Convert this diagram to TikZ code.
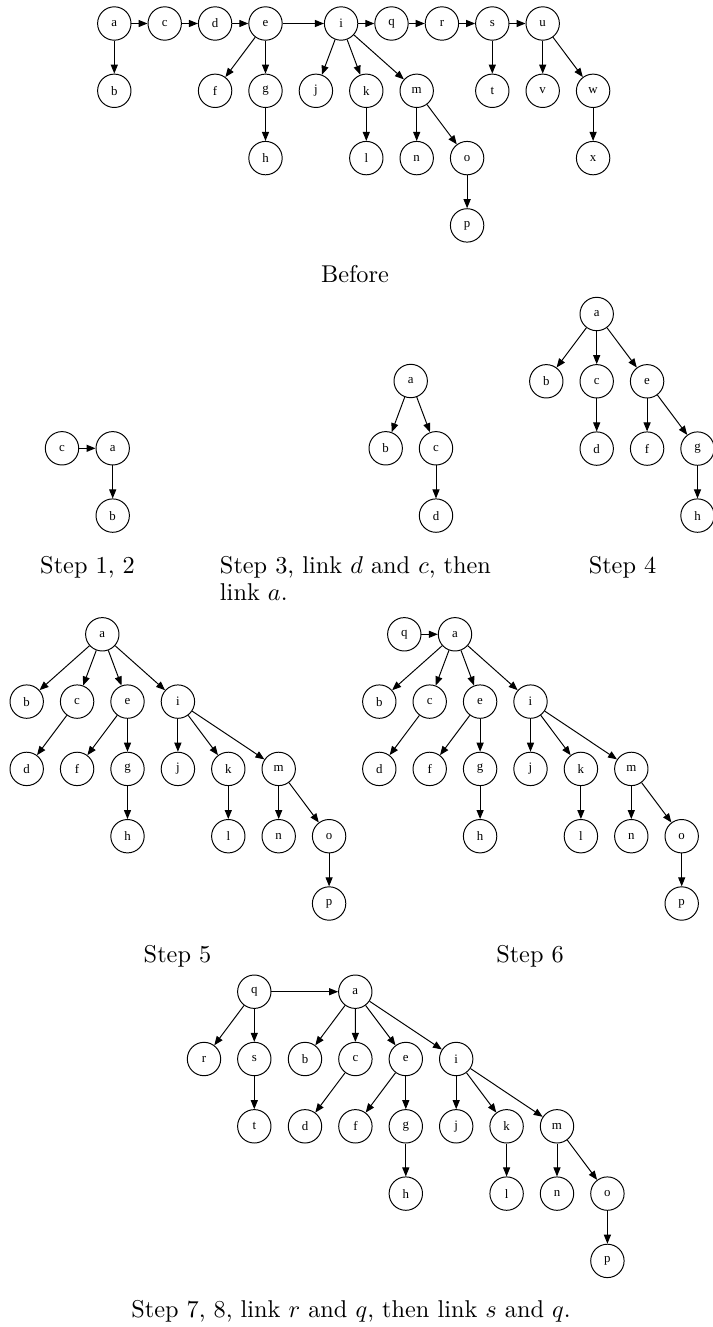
\documentclass[tikz,border=0pt]{standalone}
\usepackage{fontspec}
\newfontfamily\nodefont{Liberation Serif}
\usetikzlibrary{arrows.meta}
\tikzset{
  vtx/.style={circle, draw, line width=0.4pt, minimum size=33.4*0.4115pt, inner sep=0pt,
              font=\nodefont\fontsize{5.3}{6}\selectfont},
  edge/.style={line width=0.4pt, -{Triangle[length=3.7pt,width=2.9pt]}},
  caption/.style={font=\fontsize{10}{11.1}\selectfont, anchor=base, inner sep=0pt}
}
% subtree rooted at a: #1 prefix, #2 x of b, #3 y of top row, #4 x of a
\newcommand\mytree[4]{%
  \node[vtx] (#1a) at (#4,#3) {a};
  \node[vtx] (#1b) at ({#2},{#3+67.3}) {b};
  \node[vtx] (#1c) at ({#2+50.4},{#3+67.3}) {c};
  \node[vtx] (#1e) at ({#2+100.8},{#3+67.3}) {e};
  \node[vtx] (#1i) at ({#2+151.2},{#3+67.3}) {i};
  \node[vtx] (#1d) at ({#2},{#3+134.6}) {d};
  \node[vtx] (#1f) at ({#2+50.4},{#3+134.6}) {f};
  \node[vtx] (#1g) at ({#2+100.8},{#3+134.6}) {g};
  \node[vtx] (#1j) at ({#2+151.2},{#3+134.6}) {j};
  \node[vtx] (#1k) at ({#2+201.6},{#3+134.6}) {k};
  \node[vtx] (#1m) at ({#2+252},{#3+134.6}) {m};
  \node[vtx] (#1h) at ({#2+100.8},{#3+201.9}) {h};
  \node[vtx] (#1l) at ({#2+201.6},{#3+201.9}) {l};
  \node[vtx] (#1n) at ({#2+252},{#3+201.9}) {n};
  \node[vtx] (#1o) at ({#2+302.4},{#3+201.9}) {o};
  \node[vtx] (#1p) at ({#2+302.4},{#3+269.2}) {p};
  \foreach \u/\v in {a/b,a/c,a/e,a/i,c/d,e/f,e/g,g/h,i/j,i/k,i/m,k/l,m/n,m/o,o/p}
    \draw[edge] (#1\u) -- (#1\v);
}
\begin{document}
\begin{tikzpicture}[x=0.4115pt, y=-0.4115pt]
\useasboundingbox (0,0) rectangle (713,1327);

% ---------- Before ----------
\foreach \n/\cx/\ry in {a/0/0,c/1/0,d/2/0,e/3/0,i/4.5/0,q/5.5/0,r/6.5/0,s/7.5/0,u/8.5/0,
                        b/0/1,f/2/1,g/3/1,j/4/1,k/5/1,m/6/1,t/7.5/1,v/8.5/1,w/9.5/1,
                        h/3/2,l/5/2,n/6/2,o/7/2,x/9.5/2,p/7/3}
  \node[vtx] (B\n) at ({114.3+50.4*\cx},{23.5+67.3*\ry}) {\n};
\foreach \u/\v in {a/c,c/d,d/e,e/i,i/q,q/r,r/s,s/u,a/b,e/f,e/g,g/h,i/j,i/k,i/m,k/l,m/n,m/o,o/p,s/t,u/v,u/w,w/x}
  \draw[edge] (B\u) -- (B\v);
\node[caption] (capB) at (355,282) {Before};

% ---------- Step 1, 2 ----------
\node[vtx] (Sc) at (62,448.3) {c};
\node[vtx] (Sa) at (112.7,448.3) {a};
\node[vtx] (Sb) at (112.7,515.6) {b};
\draw[edge] (Sc) -- (Sa);
\draw[edge] (Sa) -- (Sb);
\node[caption] (cap12) at (87.5,573) {Step 1, 2};

% ---------- Step 3 ----------
\node[vtx] (Ta) at (410.7,381) {a};
\node[vtx] (Tb) at (385.7,448.3) {b};
\node[vtx] (Tc) at (436,448.3) {c};
\node[vtx] (Td) at (436,515.6) {d};
\draw[edge] (Ta) -- (Tb);
\draw[edge] (Ta) -- (Tc);
\draw[edge] (Tc) -- (Td);
\node[caption, anchor=base west, align=left] (cap3) at (219.5,600)
  {Step 3, link $d$ and $c$, then\\link $a$.};

% ---------- Step 4 ----------
\node[vtx] (Ua) at (596.7,314) {a};
\node[vtx] (Ub) at (546.3,381.3) {b};
\node[vtx] (Uc) at (596.7,381.3) {c};
\node[vtx] (Ue) at (647.1,381.3) {e};
\node[vtx] (Ud) at (596.7,448.6) {d};
\node[vtx] (Uf) at (647.1,448.6) {f};
\node[vtx] (Ug) at (697.5,448.6) {g};
\node[vtx] (Uh) at (697.5,515.6) {h};
\foreach \u/\v in {a/b,a/c,a/e,c/d,e/f,e/g,g/h}
  \draw[edge] (U\u) -- (U\v);
\node[caption] (cap4) at (622.5,573) {Step 4};

% ---------- Step 5 ----------
\mytree{V}{26.7}{634.3}{102.3}
\node[caption] (cap5) at (177.5,962) {Step 5};

% ---------- Step 6 ----------
\mytree{W}{379.3}{634.3}{455}
\node[vtx] (Wq) at (404.3,634.3) {q};
\draw[edge] (Wq) -- (Wa);
\node[caption] (cap6) at (530,962) {Step 6};

% ---------- Step 7, 8 ----------
\mytree{X}{305}{991.7}{355.3}
\node[vtx] (Xq) at (254.3,991.7) {q};
\node[vtx] (Xr) at (204,1059) {r};
\node[vtx] (Xs) at (254.3,1059) {s};
\node[vtx] (Xt) at (254.3,1126.3) {t};
\draw[edge] (Xq) -- (Xa);
\draw[edge] (Xq) -- (Xr);
\draw[edge] (Xq) -- (Xs);
\draw[edge] (Xs) -- (Xt);
\node[caption] (cap7) at (351,1317) {Step 7, 8, link $r$ and $q$, then link $s$ and $q$.};
\end{tikzpicture}
\end{document}
